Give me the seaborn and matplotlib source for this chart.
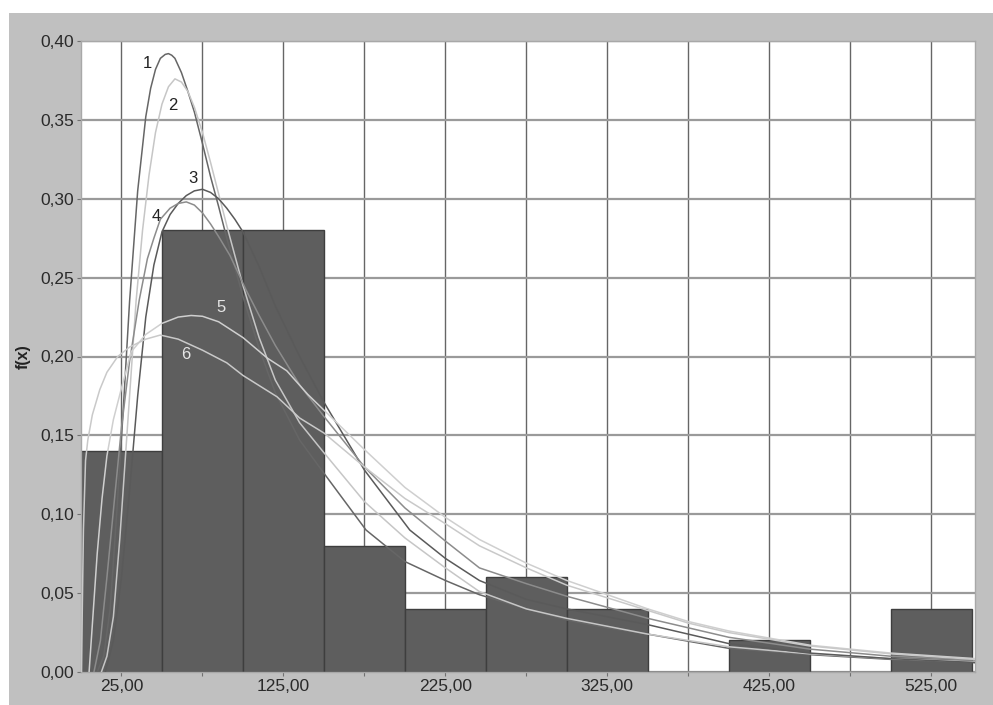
import numpy as np
import pandas as pd
import matplotlib.pyplot as plt
import matplotlib.patches as mpatches
from matplotlib.ticker import FuncFormatter, MultipleLocator
import seaborn as sns

# ── DATA ──────────────────────────────────────────────────────────────────────
bin_edges = [0, 50, 100, 150, 200, 250, 300, 350, 400, 450, 500, 550]
bin_mids = [25, 75, 125, 175, 225, 275, 325, 375, 425, 475, 525]
bin_heights = [0.14, 0.28, 0.28, 0.08, 0.04, 0.06, 0.04, 0.00, 0.02, 0.00, 0.04]

c1_x = [10, 14, 18, 22, 26, 30, 35, 40, 43, 46, 49, 52, 54, 56, 58, 62, 66, 70, 75, 80, 85, 90,
        100, 110, 120, 135, 150, 176, 200, 225, 246, 275, 300, 325, 350, 400, 450, 500, 552]
c1_y = [0.0, 0.01, 0.04, 0.10, 0.165, 0.235, 0.305, 0.352, 0.370, 0.382, 0.389, 0.3915,
        0.392, 0.391, 0.389, 0.38, 0.368, 0.355, 0.335, 0.314, 0.295, 0.275, 0.238, 0.205,
        0.177, 0.147, 0.126, 0.09, 0.07, 0.058, 0.049, 0.04, 0.033, 0.028, 0.024, 0.015,
        0.011, 0.008, 0.006]

c2_x = [12.6, 16, 20, 24, 27, 30, 34, 38, 42, 46, 50, 54, 58, 62, 66, 70, 75, 80, 85, 90,
        100, 110, 120, 135, 150, 175, 200, 225, 246, 275, 300, 325, 350, 400, 450, 500, 552]
c2_y = [0.0, 0.01, 0.035, 0.085, 0.13, 0.175, 0.235, 0.28, 0.315, 0.342, 0.36, 0.371,
        0.376, 0.374, 0.368, 0.358, 0.342, 0.323, 0.303, 0.283, 0.245, 0.212, 0.185,
        0.158, 0.139, 0.108, 0.085, 0.066, 0.051, 0.04, 0.034, 0.029, 0.024, 0.016,
        0.0115, 0.0085, 0.0065]

c3_x = [15, 20, 25, 30, 35, 40, 45, 50, 55, 60, 65, 70, 75, 80, 85, 90, 95, 100, 110,
        120, 135, 150, 175, 203, 225, 246, 275, 300, 325, 350, 400, 450, 500, 552]
c3_y = [0.0, 0.02, 0.06, 0.115, 0.175, 0.225, 0.258, 0.279, 0.29, 0.297, 0.302, 0.305,
        0.306, 0.304, 0.3, 0.294, 0.287, 0.279, 0.257, 0.232, 0.2, 0.171, 0.128, 0.09,
        0.072, 0.058, 0.046, 0.04, 0.035, 0.03, 0.018, 0.012, 0.0085, 0.006]

c4_x = [8, 12, 16, 21, 25, 30, 36, 41, 45, 49, 55, 60, 65, 70, 75, 80, 85, 92, 102, 110,
        120, 135, 150, 175, 200, 225, 246, 275, 300, 325, 350, 375, 400, 450, 500, 552]
c4_y = [0.0, 0.02, 0.06, 0.113, 0.155, 0.197, 0.236, 0.262, 0.275, 0.287, 0.294, 0.297,
        0.298, 0.296, 0.291, 0.284, 0.276, 0.264, 0.242, 0.226, 0.207, 0.182, 0.162,
        0.13, 0.104, 0.083, 0.066, 0.056, 0.048, 0.041, 0.034, 0.028, 0.022, 0.0145,
        0.01, 0.0075]

c5_x = [5, 7, 10, 13, 16, 20, 25, 31, 40, 50, 60, 68, 75, 85, 100, 115, 127, 140, 150,
        175, 200, 225, 246, 275, 300, 325, 350, 375, 400, 450, 500, 552]
c5_y = [0.0, 0.03, 0.075, 0.11, 0.137, 0.16, 0.18, 0.203, 0.214, 0.221, 0.225, 0.226,
        0.2255, 0.222, 0.212, 0.199, 0.191, 0.176, 0.166, 0.141, 0.117, 0.098, 0.084,
        0.069, 0.058, 0.049, 0.04, 0.032, 0.026, 0.017, 0.012, 0.0085]

c6_x = [0.3, 0.8, 1.5, 2.8, 4.2, 7, 11.6, 16, 22.7, 30, 40, 49, 60, 75, 90, 100, 121,
        135, 150, 175, 200, 225, 246, 275, 300, 325, 350, 375, 400, 450, 500, 552]
c6_y = [0.0, 0.04, 0.09, 0.134, 0.147, 0.163, 0.179, 0.19, 0.2, 0.206, 0.211, 0.2136,
        0.211, 0.204, 0.196, 0.188, 0.1745, 0.161, 0.1515, 0.13, 0.11, 0.094, 0.08,
        0.066, 0.055, 0.047, 0.039, 0.031, 0.025, 0.0165, 0.0115, 0.008]

curve_names = ["1", "2", "3", "4", "5", "6"]
curve_x = [c1_x, c2_x, c3_x, c4_x, c5_x, c6_x]
curve_y = [c1_y, c2_y, c3_y, c4_y, c5_y, c6_y]

curves = pd.concat(
    [pd.DataFrame({"x": xs, "y": ys, "curve": name})
     for name, xs, ys in zip(curve_names, curve_x, curve_y)],
    ignore_index=True)

# ── PLOT ──────────────────────────────────────────────────────────────────────
sns.set_style("white")
plt.rcParams["font.family"] = ["Liberation Sans", "DejaVu Sans"]

fig = plt.figure(figsize=(9.93, 7.05), dpi=100)
fig.patch.set_facecolor("white")
fig.patches.append(mpatches.Rectangle((9 / 993, 0), 1, (705 - 13) / 705,
                                      transform=fig.transFigure,
                                      facecolor="#c0c0c0", edgecolor="none", zorder=-5))

ax = fig.add_axes([81 / 993, 33 / 705, (975 - 81) / 993, (672 - 41) / 705])
ax.set_zorder(2)
ax.set_facecolor("white")

sns.histplot(x=bin_mids, weights=bin_heights, bins=bin_edges, stat="count",
             color="#5e5e5e", edgecolor="#3e3e3e", linewidth=1.0, alpha=1,
             ax=ax, zorder=2)

palette = {"1": "#666666", "2": "#c6c6c6", "3": "#5a5a5a",
           "4": "#8c8c8c", "5": "#cfcfcf", "6": "#c9c9c9"}
sns.lineplot(data=curves, x="x", y="y", hue="curve", units="curve",
             estimator=None, sort=False, palette=palette, linewidth=1.1,
             legend=False, ax=ax, zorder=3)

# curve labels
for txt, x, y, col in [("1", 40.7, 0.386, "#222222"), ("2", 56.7, 0.359, "#222222"),
                       ("3", 69.0, 0.313, "#222222"), ("4", 46.2, 0.289, "#222222"),
                       ("5", 86.4, 0.231, "#e6e6e6"), ("6", 64.7, 0.201, "#e6e6e6")]:
    ax.text(x, y, txt, fontsize=12, color=col, ha="center", va="center", zorder=4)

ax.set_xlim(0, 552)
ax.set_ylim(0, 0.40)
ax.xaxis.set_major_locator(MultipleLocator(100, offset=25))
ax.xaxis.set_minor_locator(MultipleLocator(50, offset=25))
ax.yaxis.set_major_locator(MultipleLocator(0.05))
comma = FuncFormatter(lambda v, p: f"{v:.2f}".replace(".", ","))
ax.xaxis.set_major_formatter(comma)
ax.yaxis.set_major_formatter(comma)

ax.set_axisbelow(True)
ax.grid(True, axis="x", which="both", color="#666666", linewidth=1.0, zorder=0)
ax.grid(True, axis="y", which="major", color="#9a9a9a", linewidth=1.6, zorder=0)

ax.tick_params(axis="both", which="both", direction="out", length=3, width=0.8,
               color="#707070", labelsize=12.5, labelcolor="#2a2a2a", pad=2)
ax.tick_params(axis="x", which="both", bottom=True)
ax.tick_params(axis="y", left=True)
for s in ax.spines.values():
    s.set_color("#a8a8a8")
    s.set_linewidth(1.0)

ax.set_xlabel("")
ax.set_ylabel("f(x)", fontsize=11.5, fontweight="bold", color="#222222", labelpad=7)

plt.savefig("out.png", dpi=100)
